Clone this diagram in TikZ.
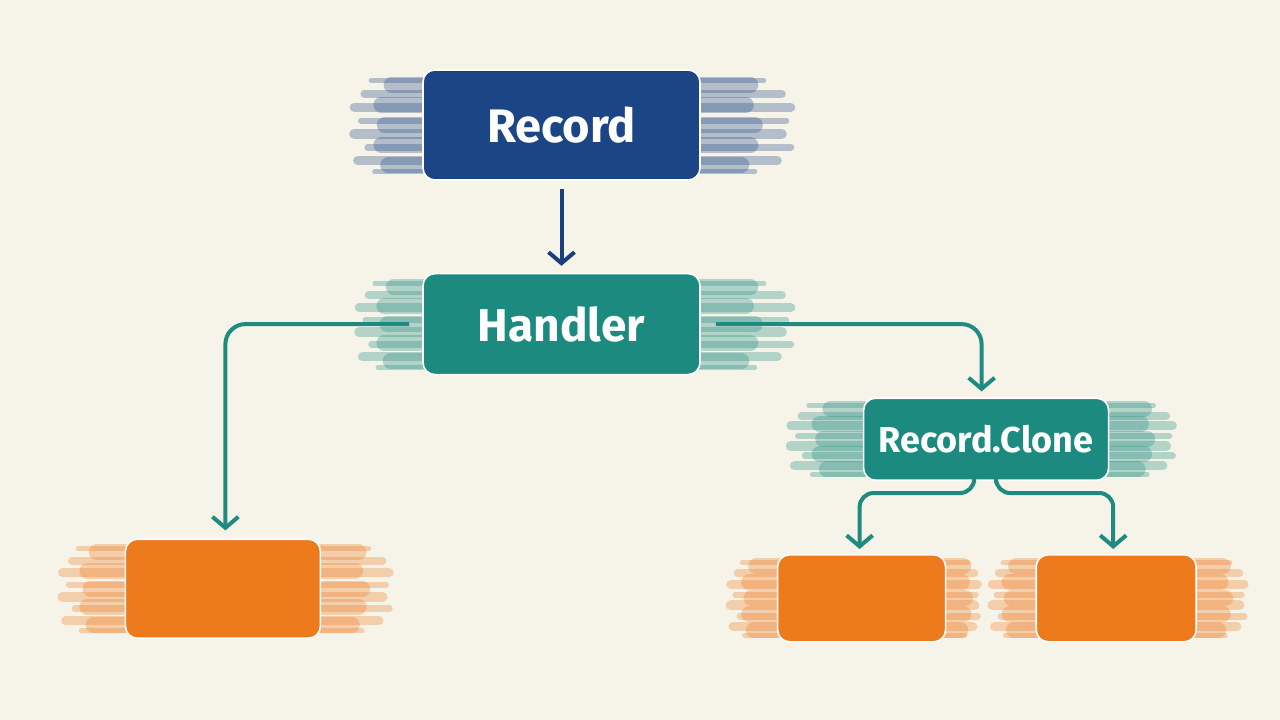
\documentclass[tikz,border=0pt]{standalone}
\usepackage{fontspec}
\setsansfont{Fira Sans}
\usetikzlibrary{arrows.meta, positioning, calc}
\pgfdeclarelayer{bg}
\pgfsetlayers{bg,main}
\definecolor{paper}{HTML}{F6F3E9}
\definecolor{recblue}{HTML}{1C4585}
\definecolor{arrblue}{HTML}{1B3F7C}
\definecolor{handteal}{HTML}{1C8A7F}
\definecolor{arrteal}{HTML}{1F8A80}
\definecolor{outorange}{HTML}{EE7A1E}
% streaky wash behind a box: node, colour, left reach, right reach
\newcommand{\brush}[4]{
	\foreach \f/\a/\b/\w in {0.14/0.5/0.45/16, 0.32/0.6/0.55/16, 0.5/0.55/0.6/16, 0.68/0.6/0.5/16, 0.86/0.45/0.55/16}
	\draw[-, #2, opacity=0.3, line width=\w pt, line cap=round]
	($(#1.south west)!\f!(#1.north west)+(-\a*#3pt,0)$) -- ($(#1.south east)!\f!(#1.north east)+(\b*#4pt,0)$);
	\foreach \f/\a/\b/\w in {0.08/0.7/0.6/5, 0.18/0.95/0.85/9, 0.3/0.8/1/7, 0.42/1/0.9/10, 0.54/0.9/0.95/6, 0.66/1/1/9, 0.78/0.85/0.9/8, 0.9/0.75/0.7/5}
	\draw[-, #2, opacity=0.3, line width=\w pt, line cap=round]
	($(#1.south west)!\f!(#1.north west)+(-\a*#3pt,0)$) -- ($(#1.south east)!\f!(#1.north east)+(\b*#4pt,0)$);
}

\begin{document}
\begin{tikzpicture}[font=\sffamily\bfseries,node distance=20pt,->,>={Straight Barb[length=11pt,width=26pt]},line width=4pt,x=1pt,y=1pt]
	
	\tikzset{node box/.style={rectangle, rounded corners=12pt, draw=white,
			line width=1.6pt, inner sep=0pt, text=white}}
	\tikzset{node rec/.style={node box, fill=recblue}}
	\tikzset{node hand/.style={node box, fill=handteal}}
	\tikzset{node out/.style={node box, fill=outorange}}
	\tikzset{conn/.style={->, draw=arrteal, line width=4pt, rounded corners=20pt}}
	
	\useasboundingbox (0,0) rectangle (1280,-720);
	
	\node[node rec, minimum width=277pt, minimum height=110pt, font=\sffamily\bfseries\fontsize{47}{47}\selectfont] (Rec) at (561.5,-125) {Record};
	\node[node hand, below=92pt of Rec, minimum width=277pt, minimum height=101pt, font=\sffamily\bfseries\fontsize{46}{46}\selectfont] (Hand) {Handler};
	\node[node hand, below right=22pt and 162pt of Hand, minimum width=245pt, minimum height=82pt, font=\sffamily\bfseries\fontsize{36}{36}\selectfont] (Clone) {Record.Clone};
	
	\node[node out, below left=163pt and 101pt of Hand, minimum width=195pt, minimum height=99pt] (OutL) {};
	\node[node out, below=73pt of Clone, xshift=-124.5pt, minimum width=168pt, minimum height=87pt] (OutM) {};
	\node[node out, right=89pt of OutM, minimum width=160pt, minimum height=87pt] (OutR) {};
	
	\begin{pgfonlayer}{bg}
		\fill[paper] (0,0) rectangle (1280,-720);
		\brush{Rec}{recblue}{68}{90}
		\brush{Hand}{handteal}{63}{90}
		\brush{Clone}{handteal}{72}{63}
		\brush{OutL}{outorange}{62}{68}
		\brush{OutM}{outorange}{46}{31}
		\brush{OutR}{outorange}{43}{47}
	\end{pgfonlayer}
	
	\draw[conn, draw=arrblue] ([yshift=-8pt]Rec.south) -- ([yshift=7pt]Hand.north);
	\draw[conn] ([xshift=-13pt]Hand.west) -| ([xshift=2.5pt,yshift=8pt]OutL.north);
	\draw[conn] ([xshift=15pt]Hand.east) -| ([xshift=-4.5pt,yshift=6pt]Clone.north);
	\draw[conn, rounded corners=14pt] ([xshift=-12pt,yshift=-2pt]Clone.south) -- ++(0,-10) -| ([xshift=-2pt,yshift=5pt]OutM.north);
	\draw[conn, rounded corners=14pt] ([xshift=10pt,yshift=-2pt]Clone.south) -- ++(0,-10) -| ([xshift=-3pt,yshift=5pt]OutR.north);
\end{tikzpicture}
\end{document}
